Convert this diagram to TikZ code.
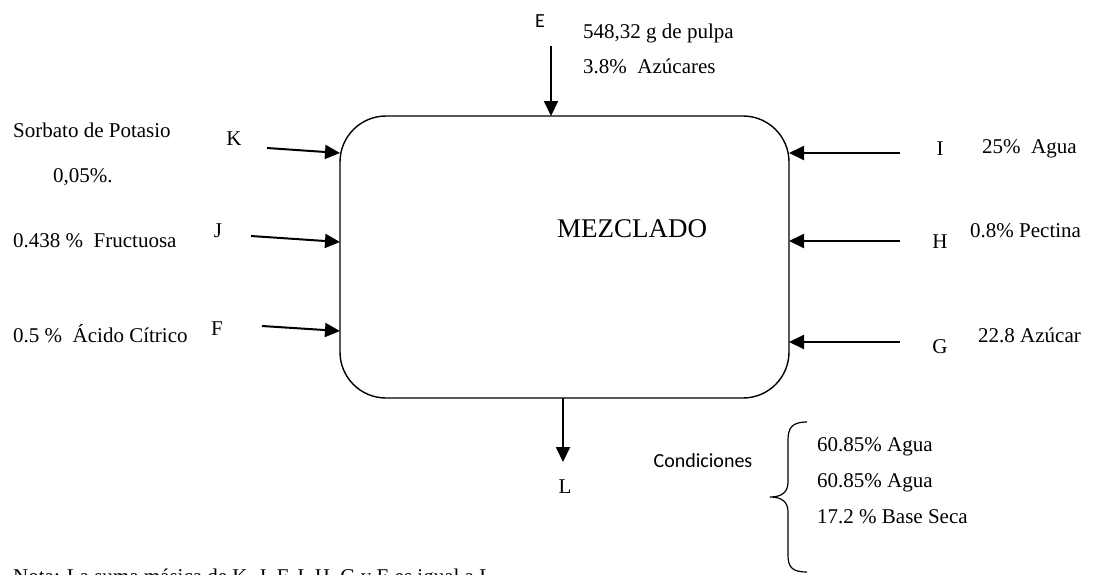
\documentclass[tikz,border=0pt]{standalone}
\usepackage{fontspec}
\setmainfont{Liberation Serif}
\newfontfamily\calfont{Carlito}
\usetikzlibrary{arrows.meta}
\begin{document}
\begin{tikzpicture}[x=1pt,y=-1pt,
  lbl/.style={inner sep=0pt,anchor=base west,font=\fontsize{21}{25}\selectfont},
  letter/.style={inner sep=0pt,anchor=base,font=\fontsize{21}{25}\selectfont},
  flow/.style={line width=2pt,-{Triangle[length=15pt,width=14pt]}},
  procbox/.style={draw,line width=1.4pt,rounded corners=46pt,minimum width=449pt,minimum height=282pt,inner sep=0pt}]
\useasboundingbox (0,0) rectangle (1095,574);
% main box
\node[procbox] (box) at (564.5,257) {};
\node[inner sep=0pt,anchor=base,font=\fontsize{27}{32}\selectfont] (title) at (632,237) {MEZCLADO};
% top input E
\node[inner sep=0pt,anchor=base,font=\calfont\fontsize{20}{24}\selectfont] (E) at (540,27) {E};
\coordinate (Es) at (551,46);
\coordinate (Et) at (551,116);
\draw[flow] (Es) -- (Et);
\node[lbl] (e1) at (583,38) {548,32 g de pulpa};
\node[lbl] (e2) at (583,73) {3.8\%\ \ Azúcares};
% left inputs
\node[lbl] (k1) at (13,137) {Sorbato de Potasio};
\node[lbl] (k2) at (53,182) {0,05\%.};
\node[letter] (K) at (234,145) {K};
\coordinate (Ks) at (267,148);
\coordinate (Kt) at (340,153);
\draw[flow] (Ks) -- (Kt);
\node[lbl] (j1) at (13,247) {0.438 \%\ \ Fructuosa};
\node[letter] (J) at (218,237) {J};
\coordinate (Js) at (251,236);
\coordinate (Jt) at (340,242);
\draw[flow] (Js) -- (Jt);
\node[lbl] (f1) at (13,342) {0.5 \%\ \ Ácido Cítrico};
\node[letter] (F) at (217,335) {F};
\coordinate (Fs) at (262,326);
\coordinate (Ft) at (340,331);
\draw[flow] (Fs) -- (Ft);
% right inputs
\coordinate (Is) at (900,153);
\coordinate (It) at (789,153);
\draw[flow] (Is) -- (It);
\node[letter] (I) at (940,155) {I};
\node[lbl] (i1) at (982,153) {25\%\ \ Agua};
\coordinate (Hs) at (900,241);
\coordinate (Ht) at (789,241);
\draw[flow] (Hs) -- (Ht);
\node[letter] (H) at (940,248) {H};
\node[lbl] (h1) at (970,237) {0.8\% Pectina};
\coordinate (Gs) at (900,342);
\coordinate (Gt) at (789,342);
\draw[flow] (Gs) -- (Gt);
\node[letter] (G) at (940,353) {G};
\node[lbl] (g1) at (978,342) {22.8 Azúcar};
% output L
\coordinate (Ls) at (563,398);
\coordinate (Lt) at (563,462);
\draw[flow] (Ls) -- (Lt);
\node[letter] (L) at (565,493) {L};
% conditions
\node[inner sep=0pt,anchor=base,font=\calfont\fontsize{20}{24}\selectfont] (cond) at (703,467) {Condiciones};
\draw[line width=1.2pt] (807,422) .. controls (792,422) and (788,428) .. (788,440) -- (788,482)
  .. controls (788,492) and (782,497) .. (770,497)
  .. controls (782,497) and (788,502) .. (788,512) -- (788,555)
  .. controls (788,567) and (792,572) .. (807,572);
\node[lbl] (c1) at (817,451) {60.85\% Agua};
\node[lbl] (c2) at (817,487) {60.85\% Agua};
\node[lbl] (c3) at (817,523) {17.2 \% Base Seca};
% note (cut off at bottom, as in the reference)
\node[lbl] (nota) at (13,583) {Nota: La suma másica de K, J, F, I, H, G y E es igual a L};
\end{tikzpicture}
\end{document}
